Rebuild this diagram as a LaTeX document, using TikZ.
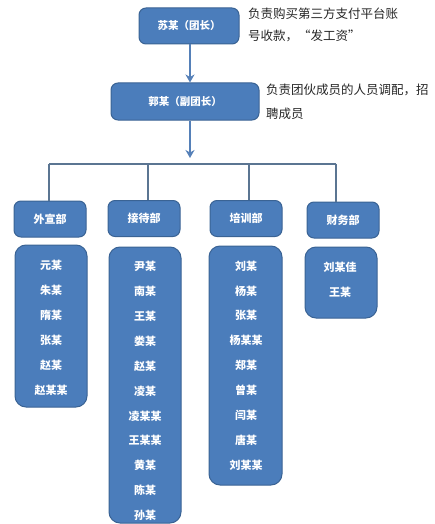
\documentclass[tikz,border=0pt]{standalone}
\usepackage{fontspec}
\setmainfont{Noto Sans CJK SC}
\usetikzlibrary{arrows.meta}
\definecolor{boxfill}{HTML}{4B7DBB}
\definecolor{boxline}{HTML}{3A6394}
\definecolor{arrowcol}{HTML}{5580B8}
\definecolor{buscol}{HTML}{5B7592}
\begin{document}
\begin{tikzpicture}[x=1pt,y=-1pt,
  box/.style={draw=boxline, line width=1pt, fill=boxfill, rounded corners=7pt,
    text=white, inner sep=0pt, font=\fontsize{10.5}{12}\selectfont\bfseries},
  dept/.style={box, minimum width=72pt, minimum height=36pt, font=\fontsize{11}{13}\selectfont\bfseries},
  list/.style={box, minimum width=72pt, rounded corners=11pt},
  member/.style={text=white, inner sep=0pt, font=\fontsize{11}{13}\selectfont\bfseries},
  note/.style={anchor=west, inner sep=0pt, text=black!85, font=\fontsize{12.5}{15}\selectfont},
  arr/.style={draw=arrowcol, line width=1.8pt, -{Stealth[length=8pt, width=9pt, inset=2.5pt]}},
  bus/.style={draw=buscol, line width=2pt}]
\useasboundingbox (0,0) rectangle (434,524);

% top boxes
\node[box, minimum width=100pt, minimum height=36pt] (su) at (189,26) {苏某（团长）};
\node[box, minimum width=148pt, minimum height=37pt] (guo) at (185,101.5) {郭某（副团长）};

% notes
\node[note] (n1a) at (248,14) {负责购买第三方支付平台账};
\node[note] (n1b) at (248,36) {号收款，“发工资”};
\node[note] (n2a) at (266,90) {负责团伙成员的人员调配，招};
\node[note] (n2b) at (266,114) {聘成员};

% departments
\node[dept] (wx) at (50,219) {外宣部};
\node[dept] (jd) at (144,218.5) {接待部};
\node[dept] (px) at (246,218.5) {培训部};
\node[dept] (cw) at (343,220) {财务部};

% arrows and bus
\coordinate (tip) at (190,158);
\coordinate (b1) at (49,163.5);
\coordinate (b2) at (148,163.5);
\coordinate (b3) at (249,163.5);
\coordinate (b4) at (336,163.5);
\draw[arr] (su.south -| tip) -- (guo.north -| tip);
\draw[arr] (guo.south -| tip) -- (tip);
\draw[bus] (b1) -- (b4);
\draw[bus] (b1) -- (b1 |- wx.north);
\draw[bus] (b2) -- (b2 |- jd.north);
\draw[bus] (b3) -- (b3 |- px.north);
\draw[bus] (b4) -- (b4 |- cw.north);

% member lists
\node[list, minimum height=162pt] (l1) at (51,326) {};
\node[list, minimum height=276pt] (l2) at (145,385) {};
\node[list, minimum width=73pt, minimum height=239pt] (l3) at (245.5,365.5) {};
\node[list, minimum height=71pt] (l4) at (341,282.5) {};

\foreach \n [count=\i] in {元某,朱某,隋某,张某,赵某,赵某某}
  \node[member] (a\i) at (51,{265+25*(\i-1)}) {\n};
\foreach \n [count=\i] in {尹某,南某,王某,娄某,赵某,凌某,凌某某,王某某,黄某,陈某,孙某}
  \node[member] (b\i) at (145,{266.5+24.9*(\i-1)}) {\n};
\foreach \n [count=\i] in {刘某,杨某,张某,杨某某,郑某,曾某,闫某,唐某,刘某某}
  \node[member] (c\i) at (246,{266+24.9*(\i-1)}) {\n};
\foreach \n [count=\i] in {刘某佳,王某}
  \node[member] (d\i) at (340,{267+25*(\i-1)}) {\n};
\end{tikzpicture}
\end{document}
